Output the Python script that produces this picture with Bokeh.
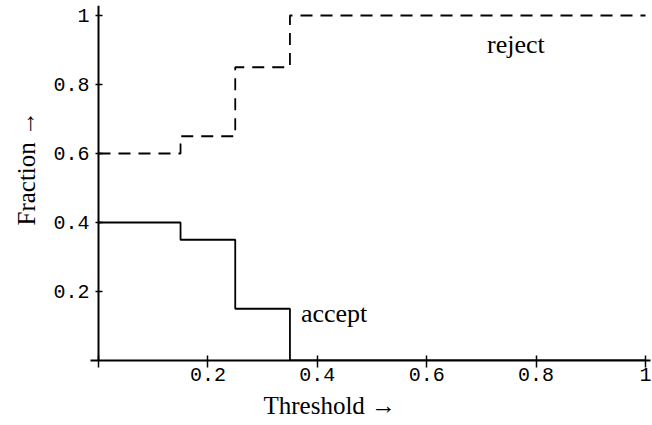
from bokeh.plotting import figure
from bokeh.models import Range1d, FixedTicker, Label, LinearAxis, Title
from bokeh.embed import file_html
from bokeh.resources import INLINE

# ---- data ----
threshold = [0.0, 0.15, 0.25, 0.35, 1.0]
reject_frac = [0.60, 0.65, 0.85, 1.00, 1.00]
accept_frac = [0.40, 0.35, 0.15, 0.00, 0.00]

x_ticks = [0.0, 0.2, 0.4, 0.6, 0.8, 1.0]
x_tick_labels = ["", "0.2", "0.4", "0.6", "0.8", "1"]
y_ticks = [0.2, 0.4, 0.6, 0.8, 1.0]
y_tick_labels = ["0.2", "0.4", "0.6", "0.8", "1"]

x_label = "Threshold \u2192"
y_label = "Fraction \u2192"

SERIF = "Liberation Serif"
MONO = "Liberation Mono"

p = figure(width=652, height=425, output_backend="svg", toolbar_location=None,
           x_range=Range1d(-8 / 548, 1 + 5 / 548),
           y_range=Range1d(0, 1 + 10 / 345),
           min_border_left=89, min_border_right=2, min_border_top=5,
           min_border_bottom=65)
p.title.visible = False
p.outline_line_color = None
p.xgrid.visible = False
p.ygrid.visible = False
p.background_fill_color = "white"
p.border_fill_color = "white"

# curves
p.step(threshold, reject_frac, mode="after", line_color="black",
       line_width=1.8, line_dash="12 8")
p.step(threshold, accept_frac, mode="after", line_color="black",
       line_width=1.8)

# x axis
xa = p.xaxis[0]
xa.ticker = FixedTicker(ticks=x_ticks)
xa.major_label_overrides = {t: s for t, s in zip(x_ticks, x_tick_labels)}
xa.minor_tick_line_color = None
xa.major_tick_in = 5
xa.major_tick_out = 7
xa.major_tick_line_width = 1.5
xa.axis_line_width = 2
xa.major_label_text_font = MONO
xa.major_label_text_font_size = "20px"
xa.major_label_text_color = "black"
xa.major_label_standoff = 0

# y axis: default left axis carries only the tick labels (outside the frame)
ya = p.yaxis[0]
ya.ticker = FixedTicker(ticks=y_ticks)
ya.major_label_overrides = {t: s for t, s in zip(y_ticks, y_tick_labels)}
ya.axis_line_color = None
ya.major_tick_line_color = None
ya.minor_tick_line_color = None
ya.major_tick_in = 0
ya.major_tick_out = 0
ya.major_label_text_font = MONO
ya.major_label_text_font_size = "20px"
ya.major_label_text_color = "black"
ya.major_label_standoff = 1

# y axis line and ticks drawn at x = 0
ya0 = LinearAxis(fixed_location=0, ticker=FixedTicker(ticks=y_ticks),
                 major_label_overrides={t: "" for t in y_ticks},
                 major_label_text_font_size="1px",
                 minor_tick_line_color=None, major_tick_in=4,
                 major_tick_out=3, major_tick_line_width=1.5,
                 axis_line_width=2, major_label_standoff=0)
p.add_layout(ya0, "left")

# axis titles
p.add_layout(Title(text=y_label, text_font=SERIF, text_font_size="25px",
                   text_font_style="normal", text_color="black",
                   text_line_height=0.8,
                   align="left", offset=135, standoff=21), "left")
p.add_layout(Title(text=x_label, text_font=SERIF, text_font_size="25px",
                   text_font_style="normal", text_color="black",
                   text_line_height=0.8,
                   align="left", offset=173, standoff=13), "below")

# curve labels
p.add_layout(Label(x=0.763, y=0.916, text="reject", text_font=SERIF,
                   text_font_size="26px", text_align="center",
                   text_baseline="alphabetic", text_color="black"))
p.add_layout(Label(x=0.370, y=0.136, text="accept", text_font=SERIF,
                   text_font_size="26px", text_align="left",
                   text_baseline="alphabetic", text_color="black"))

open("out.html", "w").write(file_html(p, INLINE))
